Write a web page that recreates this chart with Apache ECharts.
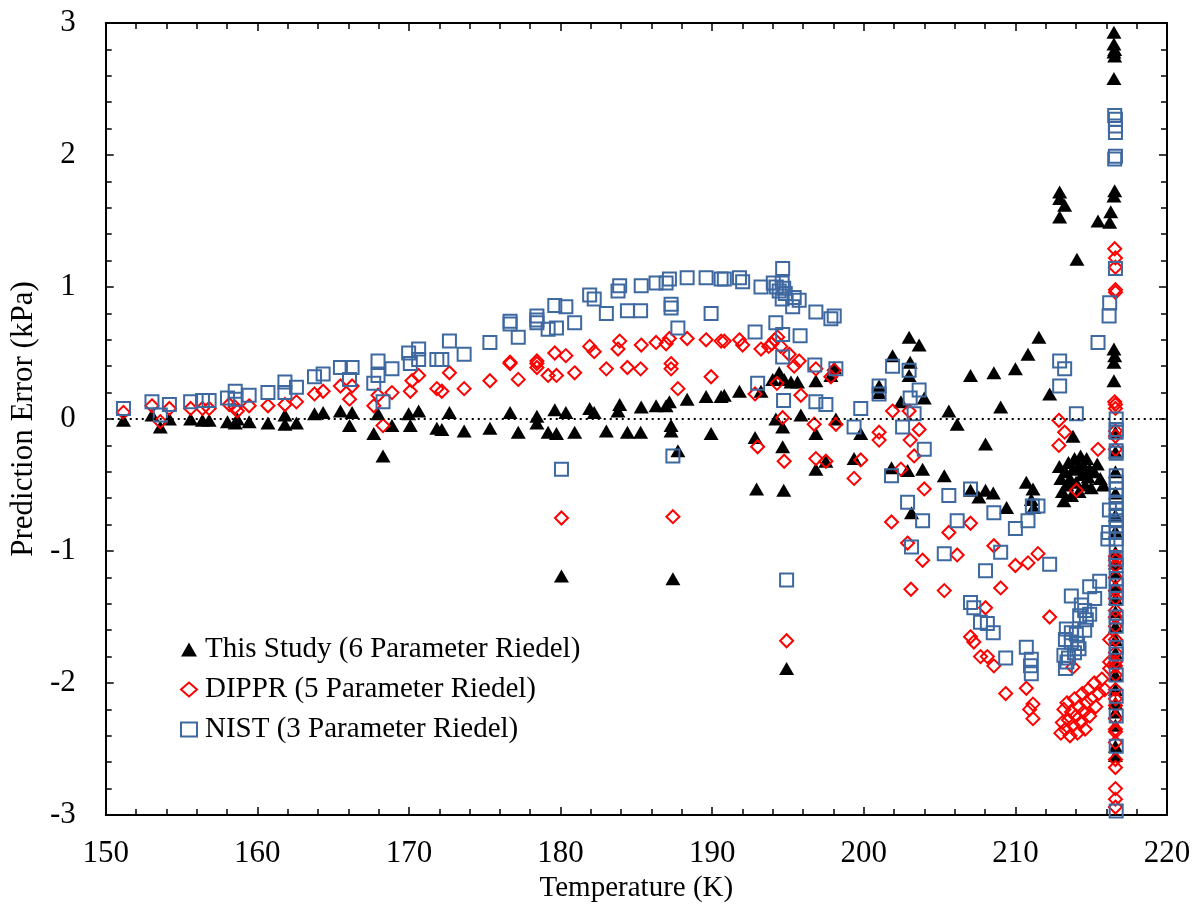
<!DOCTYPE html>
<html><head><meta charset="utf-8">
<script src="https://cdn.jsdelivr.net/npm/echarts@6/dist/echarts.min.js"></script>
<style>html,body{margin:0;padding:0;background:#fff}#c{width:1198px;height:915px}</style>
</head><body><div id="c"></div>
<script>
// [Temperature (K), Prediction Error (kPa)]
const studyData = [
[151.17,-0.01],[153.05,0.03],[153.6,-0.06],[154.2,0.0],[155.6,0.0],[156.38,-0.01],[156.82,-0.01],[158.03,-0.02],[158.54,-0.03],[158.68,0.0],[159.46,-0.02],[160.7,-0.03],[161.82,0.03],[161.82,-0.04],[162.58,-0.03],[163.77,0.04],[164.34,0.05],[165.48,0.06],[166.25,0.05],[166.08,-0.05],[167.68,-0.11],[167.96,0.04],[168.29,-0.28],[168.88,-0.05],[169.98,0.04],[170.09,-0.05],[170.64,0.06],
[171.84,-0.07],[172.17,-0.08],[172.67,0.05],[173.64,-0.09],[175.34,-0.07],[176.67,0.05],[177.21,-0.1],[178.44,0.02],[178.44,-0.03],[179.18,-0.1],[179.73,-0.11],[179.62,0.07],[180.35,0.05],[180.93,-0.1],[181.92,0.08],[182.22,0.05],[183.02,-0.09],[183.9,0.11],[183.79,0.06],[184.41,-0.1],[185.28,-0.1],[185.32,0.09],[186.3,0.1],[186.96,0.1],[187.18,0.13],[187.29,-0.05],[187.29,-0.09],[187.74,-0.24],[188.35,0.15],[189.6,0.17],[189.93,-0.11],[190.59,0.17],
[180.06,-1.19],[187.41,-1.21],[192.93,-0.53],[194.72,-0.54],[192.83,-0.14],[194.65,-0.21],[194.91,-1.89],[196.84,-0.11],[196.84,-0.38],[197.5,-0.32],
[190.8,0.18],[191.8,0.21],[193.22,0.21],[193.99,0.3],[194.42,0.35],[194.75,0.3],[195.2,0.28],[195.63,0.28],[194.2,0.0],[194.65,-0.06],[195.85,0.03],[196.84,0.29],[197.83,0.33],[198.05,0.39],[198.16,0.0],[199.36,-0.3],[199.8,-0.11],
[201.01,0.2],[201.01,0.25],[201.9,0.48],[202.99,0.62],[203.65,0.56],[203.06,0.43],[202.99,0.33],[202.45,0.13],[203.99,0.16],[201.83,-0.37],[202.89,-0.39],[203.88,-0.38],[203.15,-0.71],[205.61,0.06],[206.16,-0.04],[207.04,0.33],[208.58,0.35],[210.0,0.38],[209.03,0.09],[208.03,-0.19],[205.31,-0.43],[207.04,-0.54],[207.59,-0.59],[208.03,-0.54],[208.54,-0.56],[209.42,-0.67],
[210.72,-0.48],[211.16,-0.53],[211.05,-0.61],[211.2,-0.67],[211.55,0.62],[210.83,0.49],[212.26,0.19],[212.92,1.72],[212.92,1.67],[213.25,1.62],[212.92,1.53],[215.45,1.5],[216.22,1.49],[216.29,1.57],[214.06,1.21],[213.8,-0.13],
[212.9,-0.36],[213.0,-0.45],[213.1,-0.55],[213.2,-0.62],[213.3,-0.4],[213.4,-0.5],[213.5,-0.33],[213.6,-0.45],[213.7,-0.58],[213.8,-0.38],[213.9,-0.3],[214.0,-0.48],[214.1,-0.36],[214.2,-0.55],[214.3,-0.28],[214.4,-0.42],[214.5,-0.35],[214.6,-0.5],[214.7,-0.3],[214.8,-0.44],[214.9,-0.38],[215.0,-0.52],[215.2,-0.4],[215.4,-0.34],[215.6,-0.45],[215.8,-0.5],
[216.5,2.93],[216.5,2.84],[216.55,2.8],[216.5,2.78],[216.55,2.75],[216.5,2.58],[216.55,1.73],[216.5,1.69],[216.5,0.53],[216.55,0.48],[216.5,0.43],[216.5,0.29],
[216.6,-0.1],[216.6,-0.25],[216.6,-0.4],[216.6,-0.56],[216.6,-0.73],[216.6,-0.85],[216.6,-1.01],[216.6,-1.09],[216.6,-1.16],[216.6,-1.26],[216.6,-1.36],[216.6,-1.46],[216.6,-1.57],[216.6,-1.67],[216.6,-1.77],[216.6,-1.84],[216.6,-1.94],[216.6,-2.05],[216.6,-2.15],[216.6,-2.22],[216.6,-2.32],[216.6,-2.48],[216.6,-2.55]
];
const dipprData = [
[151.17,0.05],[153.05,0.1],[153.6,-0.02],[154.2,0.08],[155.6,0.08],[156.38,0.08],[156.82,0.08],[158.15,0.11],[158.54,0.09],[158.68,0.06],[159.46,0.1],[160.7,0.1],[161.82,0.11],[162.58,0.13],[163.77,0.19],[164.34,0.21],[165.48,0.25],[166.08,0.15],[166.25,0.25],[167.68,0.1],[167.96,0.18],[168.29,-0.05],[168.88,0.2],[170.09,0.21],[170.2,0.29],[170.64,0.33],
[171.84,0.23],[172.17,0.21],[172.67,0.35],[173.64,0.23],[175.34,0.29],[176.67,0.43],[176.67,0.42],[177.21,0.3],[178.44,0.44],[178.44,0.42],[178.44,0.39],[179.18,0.33],[179.73,0.33],[179.62,0.5],[180.35,0.48],[180.93,0.35],[181.92,0.55],[182.22,0.51],[183.02,0.38],[183.9,0.59],[183.79,0.53],[184.41,0.39],[185.28,0.38],[185.32,0.56],[186.3,0.58],[186.96,0.57],[187.18,0.61],[187.29,0.42],[187.29,0.38],[187.74,0.23],[188.35,0.61],[189.6,0.6],[189.93,0.32],[190.59,0.59],
[180.06,-0.75],[187.41,-0.74],[193.0,-0.21],[194.75,-0.32],[194.91,-1.68],[196.73,-0.04],[196.84,-0.3],[197.5,-0.32],
[190.8,0.59],[191.8,0.6],[192.01,0.56],[193.22,0.53],[193.73,0.55],[193.93,0.57],[194.12,0.6],[194.32,0.62],[194.52,0.55],[195.08,0.49],[195.41,0.4],[195.74,0.44],[196.84,0.38],[197.83,0.32],[198.05,0.37],[194.27,0.27],[192.83,0.19],[195.85,0.18],[194.65,0.01],[198.16,-0.04],[199.36,-0.45],[199.8,-0.31],
[201.9,0.06],[201.01,-0.1],[201.01,-0.16],[202.99,0.06],[203.65,-0.08],[203.06,-0.16],[203.32,-0.28],[202.45,-0.38],[203.99,-0.53],[201.83,-0.78],[202.89,-0.94],[203.88,-1.07],[205.61,-0.86],[206.16,-1.03],[207.04,-0.79],[208.58,-0.96],[210.0,-1.11],
[203.11,-1.29],[205.31,-1.3],[209.03,-1.28],[210.83,-1.09],[211.49,-1.02],[208.03,-1.43],[207.04,-1.65],[207.26,-1.69],[207.7,-1.8],[208.15,-1.8],[208.58,-1.87],[209.36,-2.08],[210.72,-2.04],[210.94,-2.2],[211.16,-2.16],[211.16,-2.27],
[212.87,-0.01],[213.25,-0.1],[212.87,-0.2],[214.02,-0.54],[215.45,-0.23],[212.26,-1.5],[213.8,-1.88],
[213.0,-2.38],[213.1,-2.3],[213.2,-2.2],[213.3,-2.35],[213.4,-2.15],[213.5,-2.28],[213.6,-2.4],[213.7,-2.22],[213.8,-2.32],[213.9,-2.12],[214.0,-2.25],[214.1,-2.38],[214.2,-2.18],[214.3,-2.3],[214.4,-2.08],[214.5,-2.22],[214.6,-2.35],[214.7,-2.15],[214.8,-2.05],[214.9,-2.25],[215.0,-2.12],[215.2,-2.0],[215.3,-2.18],[215.5,-2.08],[215.7,-1.97],[215.9,-2.05],
[216.55,1.29],[216.6,1.22],[216.6,1.15],[216.6,0.98],[216.6,0.96],[216.6,0.11],[216.55,0.13],[216.6,0.08],[216.6,-0.09],[216.6,-0.13],[216.6,-0.23],
[216.6,-1.04],[216.6,-1.07],[216.6,-1.11],[216.6,-1.2],[216.6,-1.3],[216.6,-1.36],[216.6,-1.45],[216.6,-1.5],[216.6,-1.57],[216.6,-1.67],[216.6,-1.77],[216.6,-1.84],[216.6,-1.87],[216.6,-1.94],[216.6,-2.05],[216.6,-2.12],[216.6,-2.17],[216.6,-2.27],[216.6,-2.35],[216.6,-2.37],[216.6,-2.45],[216.6,-2.58],[216.6,-2.64],[216.6,-2.8],[216.6,-2.88],[216.6,-2.94],
[216.22,-1.67],[216.22,-1.84],[216.22,-1.89]
];
const nistData = [
[151.17,0.08],[153.05,0.13],[153.6,0.03],[154.2,0.11],[155.6,0.13],[156.38,0.14],[156.82,0.14],[158.03,0.16],[158.54,0.21],[158.54,0.15],[159.46,0.18],[160.7,0.2],[161.82,0.28],[161.82,0.2],[162.58,0.24],[163.77,0.32],[164.34,0.34],[165.48,0.39],[166.25,0.39],[166.08,0.3],[167.68,0.27],[167.96,0.44],[167.96,0.33],[168.29,0.13],[168.88,0.38],[169.98,0.5],[170.09,0.42],[170.64,0.53],[170.64,0.45],
[171.84,0.45],[172.17,0.45],[172.67,0.59],[173.64,0.49],[175.34,0.58],[176.67,0.74],[176.67,0.72],[177.21,0.62],[178.44,0.78],[178.44,0.75],[178.44,0.73],[179.18,0.68],[179.73,0.69],[179.62,0.86],[180.35,0.85],[180.93,0.73],[181.92,0.94],[182.22,0.91],[183.02,0.8],[183.9,1.01],[183.79,0.97],[184.41,0.82],[185.28,0.82],[185.32,1.01],[186.3,1.03],[186.96,1.03],[187.29,0.87],[187.29,0.84],[187.74,0.69],[187.18,1.06],[188.35,1.07],[189.6,1.07],[189.93,0.8],[190.59,1.06],[180.06,-0.38],[187.41,-0.28],
[190.8,1.06],[191.8,1.07],[192.01,1.04],[193.22,1.0],[194.65,1.14],[194.03,1.03],[194.23,1.0],[194.42,0.97],[194.62,1.03],[194.72,0.99],[194.82,0.95],[194.62,0.91],[195.41,0.92],[195.74,0.9],[195.31,0.85],[196.84,0.81],[197.83,0.76],[198.05,0.78],[192.83,0.66],[194.2,0.73],[194.65,0.64],[195.8,0.63],[194.65,0.47],[196.77,0.41],[198.16,0.38],[193.0,0.27],[194.71,0.14],[196.84,0.13],[197.5,0.11],[199.8,0.08],[199.36,-0.06],
[201.01,0.25],[201.01,0.19],[201.9,0.4],[202.99,0.37],[203.65,0.22],[203.06,0.16],[203.32,0.04],[202.56,-0.06],[203.99,-0.23],[201.83,-0.43],[202.89,-0.63],[203.88,-0.77],[203.15,-0.97],[205.31,-1.02],[205.61,-0.58],[206.16,-0.77],[207.04,-0.53],[208.58,-0.71],[209.03,-1.01],[210.0,-0.83],[208.03,-1.15],[194.91,-1.22],
[210.83,-0.77],[211.12,-0.66],[207.04,-1.39],[207.26,-1.43],[207.7,-1.54],[208.15,-1.55],[208.54,-1.62],[209.36,-1.81],[210.72,-1.73],[211.05,-1.82],[211.05,-1.93],[211.0,-1.87],
[212.92,0.44],[213.25,0.38],[212.92,0.25],[214.02,0.04],[211.49,-0.66],[212.26,-1.1],
[215.56,-1.23],[214.9,-1.27],[215.23,-1.36],[213.69,-1.34],[214.35,-1.41],[214.57,-1.45],[214.9,-1.48],[214.24,-1.49],[214.68,-1.52],[213.36,-1.59],[213.69,-1.62],[214.02,-1.63],[214.57,-1.6],[213.3,-1.67],[213.69,-1.69],[214.1,-1.7],[214.2,-1.74],[213.2,-1.79],[213.5,-1.81],[213.9,-1.77],[213.3,-1.89],[213.4,-1.84],
[216.55,2.3],[216.6,2.27],[216.6,2.22],[216.6,2.17],[216.6,1.99],[216.55,1.97],[216.6,1.14],[216.22,0.88],[216.18,0.78],[215.45,0.58],
[216.65,0.0],[216.65,-0.08],[216.65,-0.1],[216.65,-0.24],[216.65,-0.26],[216.65,-0.43],[216.65,-0.48],[216.65,-0.53],[216.65,-0.58],[216.65,-0.64],[216.65,-0.69],[216.65,-0.73],[216.65,-0.77],[216.65,-0.81],[216.65,-0.86],[216.65,-0.91],[216.65,-0.95],[216.65,-1.06],[216.65,-1.11],[216.65,-1.21],[216.65,-1.26],[216.65,-1.31],[216.65,-1.36],[216.65,-1.5],[216.65,-1.57],[216.65,-1.73],[216.65,-1.78],[216.65,-1.94],[216.65,-2.1],[216.65,-2.25],[216.65,-2.48],[216.65,-2.97],
[216.2,-0.69],[216.1,-0.91],[216.15,-0.86]
];
const seriesNames = ['This Study (6 Parameter Riedel)','DIPPR (5 Parameter Riedel)','NIST (3 Parameter Riedel)'];
const xTicks = {min:150, max:220, step:10};
const yTicks = {min:-3, max:3, step:1};

const FONT = 'Liberation Serif';
const chart = echarts.init(document.getElementById('c'), null, {renderer:'canvas'});
function axisCommon(showLabel){
  return {
    axisLine:{show:true,onZero:false,lineStyle:{color:'#000',width:2}},
    axisTick:{show:true,inside:true,length:8,lineStyle:{color:'#000',width:1.5}},
    minorTick:{show:true,splitNumber:5,length:6,lineStyle:{color:'#000',width:1.5}},
    splitLine:{show:false},minorSplitLine:{show:false},
    axisLabel:{show:showLabel,color:'#000',fontFamily:FONT,fontSize:31}
  };
}
const xb = Object.assign({type:'value',position:'bottom',min:xTicks.min,max:xTicks.max,interval:xTicks.step,
  name:'Temperature (K)',nameLocation:'middle',nameGap:56,
  nameTextStyle:{color:'#000',fontFamily:FONT,fontSize:29}}, axisCommon(true));
xb.axisLabel.margin = 23;
const xt = Object.assign({type:'value',position:'top',min:xTicks.min,max:xTicks.max,interval:xTicks.step}, axisCommon(false));
const yl = Object.assign({type:'value',position:'left',min:yTicks.min,max:yTicks.max,interval:yTicks.step,
  name:'Prediction Error (kPa)',nameLocation:'middle',nameGap:65,
  nameTextStyle:{color:'#000',fontFamily:FONT,fontSize:31}}, axisCommon(true));
yl.axisLabel.margin = 30;
const yr = Object.assign({type:'value',position:'right',min:yTicks.min,max:yTicks.max,interval:yTicks.step}, axisCommon(false));

chart.setOption({
  backgroundColor:'#fff',
  animation:false,
  grid:{left:103,right:31,top:23,bottom:100},
  xAxis:[xb,xt],
  yAxis:[yl,yr],
  legend:{
    orient:'vertical',left:175,top:630,itemGap:11,itemWidth:16,itemHeight:14,
    textStyle:{color:'#000',fontFamily:FONT,fontSize:29,padding:[0,0,0,3]},
    data:[{name:seriesNames[0],icon:'triangle'},{name:seriesNames[1],icon:'diamond'},{name:seriesNames[2],icon:'rect'}]
  },
  series:[
    {name:seriesNames[0],type:'scatter',xAxisIndex:0,yAxisIndex:0,symbol:'triangle',symbolSize:[15,13],
     itemStyle:{color:'#000',opacity:1},data:studyData,
     markLine:{silent:true,symbol:['none','none'],label:{show:false},
       lineStyle:{color:'#000',type:[2,4],width:2},data:[{yAxis:0}]}},
    {name:seriesNames[1],type:'scatter',xAxisIndex:0,yAxisIndex:0,symbol:'diamond',symbolSize:[13,13],
     itemStyle:{color:'rgba(255,255,255,0)',borderColor:'#ff0000',borderWidth:2,opacity:1},data:dipprData},
    {name:seriesNames[2],type:'scatter',xAxisIndex:0,yAxisIndex:0,symbol:'rect',symbolSize:[13,13],
     itemStyle:{color:'rgba(255,255,255,0)',borderColor:'#3e68a0',borderWidth:2,opacity:1},data:nistData}
  ]
});
</script></body></html>
